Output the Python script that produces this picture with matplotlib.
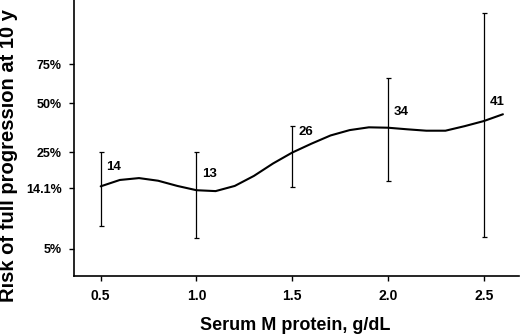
import numpy as np
import matplotlib
matplotlib.use('Agg')
import matplotlib.pyplot as plt

# %% Data

# smooth risk curve (x in g/dL, risk as fraction)
curve_x = [0.5, 0.6, 0.7, 0.8, 0.9, 1.0, 1.1, 1.2, 1.3, 1.4, 1.5,
           1.6, 1.7, 1.8, 1.9, 2.0, 2.1, 2.2, 2.3, 2.4, 2.5, 2.6]
curve_y = [0.145, 0.161, 0.166, 0.159, 0.146, 0.136, 0.134, 0.146, 0.172, 0.210, 0.249,
           0.285, 0.322, 0.348, 0.362, 0.360, 0.352, 0.345, 0.345, 0.368, 0.395, 0.433]

# confidence intervals at the group points
ci_x = [0.5, 1.0, 1.5, 2.0, 2.5]
ci_mid = [0.145, 0.136, 0.249, 0.360, 0.395]
ci_low = [0.074, 0.060, 0.143, 0.158, 0.061]
ci_high = [0.252, 0.252, 0.370, 0.664, 0.969]
counts = [14, 13, 26, 34, 41]
label_dy = [14, 12, 15, 11, 14]   # label lift above curve, points

ytick_vals = [0.05, 0.141, 0.25, 0.50, 0.75]
ytick_labels = ['5%', '14.1%', '25%', '50%', '75%']
xtick_vals = [0.5, 1.0, 1.5, 2.0, 2.5]
xtick_labels = ['0.5', '1.0', '1.5', '2.0', '2.5']

# %% Scale: complementary log-log

def cloglog(p):
    p = np.clip(p, 1e-9, 1 - 1e-9)
    return np.log(-np.log(1 - p))

def inv_cloglog(c):
    return 1 - np.exp(-np.exp(c))

# %% Plot

plt.rcParams['font.family'] = ['Liberation Sans', 'DejaVu Sans']
plt.rcParams['font.weight'] = 'bold'

fig = plt.figure(figsize=(5.2, 3.35), dpi=100)
ax = fig.add_axes([73.5/520, 1 - 276/335, (519 - 73.5)/520, 276/335])

ax.set_yscale('function', functions=(cloglog, inv_cloglog))

ax.plot(curve_x, curve_y, color='black', lw=1.5, solid_capstyle='round')

yerr = [np.array(ci_mid) - np.array(ci_low), np.array(ci_high) - np.array(ci_mid)]
ax.errorbar(ci_x, ci_mid, yerr=yerr, fmt='none', ecolor='black',
            elinewidth=0.9, capsize=1.8, capthick=0.9)

for xv, yv, n, dy in zip(ci_x, ci_mid, counts, label_dy):
    ax.annotate(str(n), (xv, yv), xytext=(9.5, dy), textcoords='offset points',
                ha='center', va='center', fontsize=9.5, fontweight='bold')

ax.set_xlim(0.358, 2.684)
ax.set_ylim(0.0311, 0.9873)

ax.set_yticks(ytick_vals)
ax.set_yticklabels(ytick_labels)
ax.yaxis.set_minor_locator(matplotlib.ticker.NullLocator())
ax.set_xticks(xtick_vals)
ax.set_xticklabels(xtick_labels)

ax.spines['top'].set_visible(False)
ax.spines['right'].set_visible(False)
ax.spines['left'].set_linewidth(1.2)
ax.spines['bottom'].set_linewidth(1.2)
ax.tick_params(axis='both', direction='out', length=3.5, width=1, colors='black')
ax.tick_params(axis='y', pad=5, labelsize=9)
ax.tick_params(axis='x', pad=6, labelsize=10)

fig.text(9/520, 1 - 156/335, 'Risk of full progression at 10 y', rotation=90,
         ha='center', va='center', fontsize=14.5, fontweight='bold')
fig.text(295/520, 1 - 326/335, 'Serum M protein, g/dL',
         ha='center', va='center', fontsize=13, fontweight='bold')

plt.savefig('out.png', dpi=100)
